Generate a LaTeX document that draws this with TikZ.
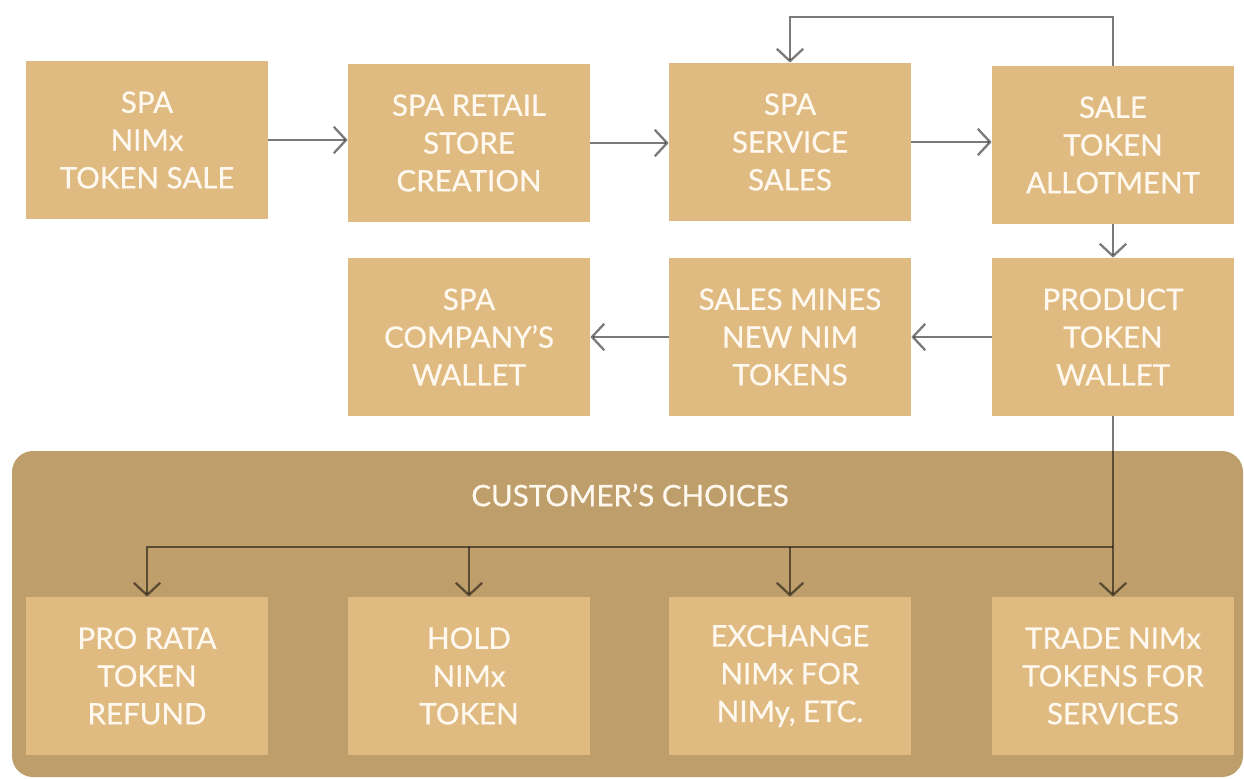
\documentclass[tikz,border=0pt]{standalone}
\usepackage{fontspec}
\setmainfont{Lato}
\newfontfamily\boxfont{Lato}[FakeBold=0.7]
\usepackage{xcolor}
\usepackage{tikz}
\usetikzlibrary{arrows.meta}

\definecolor{boxtan}{HTML}{DFBB82}
\definecolor{paneltan}{HTML}{BE9E6A}
\definecolor{textcream}{HTML}{FFF8EE}

\tikzset{
    stepbox/.style = {fill = boxtan, text = textcream, inner sep = 0pt,
        minimum width = 4.84cm, minimum height = 3.16cm, align = center,
        font = \boxfont\fontsize{16.8}{21.5}\selectfont},
    flow/.style = {draw = black, draw opacity = 0.52, line width = 1.3pt,
        -{Straight Barb[length = 7pt, width = 15pt]}}
}

\begin{document}
\begin{tikzpicture}[x = 0.02cm, y = -0.02cm]
        \useasboundingbox (0, 0) rectangle (1244, 778);

        \fill [paneltan, rounded corners = 12] (12, 451) rectangle (1243, 777);

        \node [stepbox] (tokensale) at (147, 140) {SPA\\NIMx\\TOKEN SALE};
        \node [stepbox] (retail) at (469, 143) {SPA RETAIL\\STORE\\CREATION};
        \node [stepbox] (service) at (790, 142) {SPA\\SERVICE\\SALES};
        \node [stepbox] (allot) at (1113, 145) {SALE\\TOKEN\\ALLOTMENT};

        \node [stepbox] (company) at (469, 337) {SPA\\COMPANY’S\\WALLET};
        \node [stepbox] (mines) at (790, 337) {SALES MINES\\NEW NIM\\TOKENS};
        \node [stepbox] (wallet) at (1113, 337) {PRODUCT\\TOKEN\\WALLET};

        \node [text = textcream, font = \boxfont\fontsize{16.8}{21.5}\selectfont]
            (choices) at (630, 495) {CUSTOMER’S CHOICES};

        \node [stepbox] (refund) at (147, 676) {PRO RATA\\TOKEN\\REFUND};
        \node [stepbox] (hold) at (469, 676) {HOLD\\NIMx\\TOKEN};
        \node [stepbox] (exchange) at (790, 676) {EXCHANGE\\NIMx FOR\\NIMy, ETC.};
        \node [stepbox] (trade) at (1113, 676) {TRADE NIMx\\TOKENS FOR\\SERVICES};

        \coordinate (loop) at (792, 17);
        \coordinate (split) at (1113, 547);

        \draw [flow] (tokensale.east) -- (tokensale.east -| retail.west);
        \draw [flow] (retail.east) -- (retail.east -| service.west);
        \draw [flow] (service.east) -- (service.east -| allot.west);
        \draw [flow] (allot.north) -- (allot.north |- loop) -| (service.north);
        \draw [flow] (allot.south) -- (wallet.north);
        \draw [flow] (wallet.west) -- (mines.east);
        \draw [flow] (mines.west) -- (company.east);

        \draw [flow] (wallet.south) -- (trade.north);
        \draw [flow] (split) -| (refund.north);
        \draw [flow] (hold.north |- split) -- (hold.north);
        \draw [flow] (exchange.north |- split) -- (exchange.north);
\end{tikzpicture}
\end{document}
